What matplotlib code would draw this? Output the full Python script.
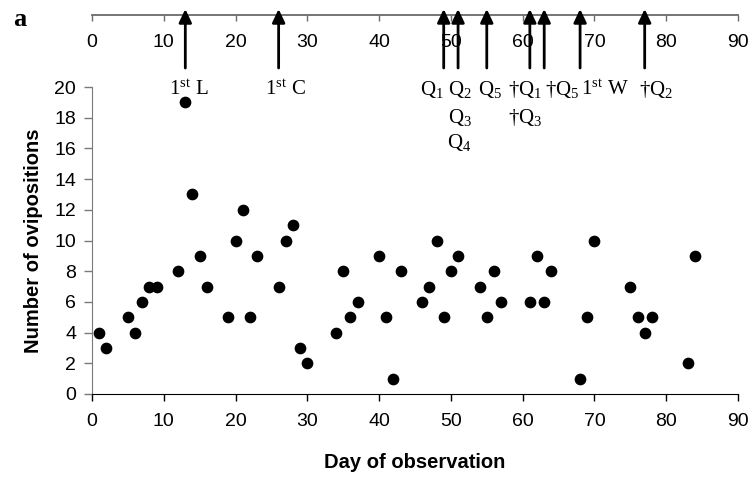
import matplotlib
matplotlib.use("Agg")
import matplotlib.pyplot as plt
import matplotlib.transforms as mtransforms
from matplotlib.patches import FancyArrowPatch

# ---------------- data ----------------
days = [1, 2, 5, 6, 7, 8, 9, 12, 13, 14, 15, 16, 19, 20, 21, 22, 23, 26, 27, 28,
        29, 30, 34, 35, 36, 37, 40, 41, 42, 43, 46, 47, 48, 49, 50, 51, 54, 55,
        56, 57, 61, 62, 63, 64, 68, 69, 70, 75, 76, 77, 78, 83, 84]
ovipositions = [4, 3, 5, 4, 6, 7, 7, 8, 19, 13, 9, 7, 5, 10, 12, 5, 9, 7, 10, 11,
                3, 2, 4, 8, 5, 6, 9, 5, 1, 8, 6, 7, 10, 5, 8, 9, 7, 5,
                8, 6, 6, 9, 6, 8, 1, 5, 10, 7, 5, 4, 5, 2, 9]

event_days = [13, 26, 49, 51, 55, 61, 63, 68, 77]
event_labels = [[r"1$^{\rm st}$ L"], [r"1$^{\rm st}$ C"], [r"Q$_1$"],
                [r"Q$_2$", r"Q$_3$", r"Q$_4$"], [r"Q$_5$"],
                [r"†Q$_1$", r"†Q$_3$"], [r"†Q$_5$"], [r"1$^{\rm st}$ W"], [r"†Q$_2$"]]

x_ticks = list(range(0, 91, 10))
y_ticks = list(range(0, 21, 2))
x_label = "Day of observation"
y_label = "Number of ovipositions"
panel_label = "a"

# ---------------- layout ----------------
W, H = 752, 478
label_x_shift = [0.5, 0.9, -1.7, 0.2, 0.4, -0.6, 2.5, 3.4, 1.6]  # label offsets (days)
row_px = [90, 117, 143]

plt.rcParams["font.family"] = ["Liberation Sans", "DejaVu Sans"]
plt.rcParams["mathtext.fontset"] = "custom"
plt.rcParams["mathtext.rm"] = "Liberation Serif"
plt.rcParams["mathtext.it"] = "Liberation Serif:italic"
plt.rcParams["mathtext.bf"] = "Liberation Serif:bold"

fig = plt.figure(figsize=(W / 100, H / 100), dpi=100)
left, right, bottom, top = 92, 738, 394, 87
ax = fig.add_axes([left / W, 1 - bottom / H, (right - left) / W, (bottom - top) / H])

ax.scatter(days, ovipositions, s=55, color="black", zorder=3, clip_on=False)
ax.set_xlim(0, 90)
ax.set_ylim(0, 20)
ax.set_xticks(x_ticks)
ax.set_yticks(y_ticks)
for s in ["top", "right"]:
    ax.spines[s].set_visible(False)
ax.spines["left"].set_color("#7a7a7a")
ax.spines["bottom"].set_color("#000000")
ax.tick_params(axis="y", direction="out", length=5.5, width=1, colors="#7a7a7a",
               labelcolor="black", labelsize=14, pad=6)
ax.tick_params(axis="x", direction="out", length=5, width=1, colors="black",
               labelsize=14, pad=9)
ax.set_xlabel(x_label, fontsize=14.5, fontweight="bold", labelpad=16)
ax.set_ylabel(y_label, fontsize=14.5, fontweight="bold", labelpad=8)

# top axis
ax_top = fig.add_axes([left / W, 1 - 15 / H, (right - left) / W, 0.0])
ax_top.set_xlim(0, 90)
ax_top.set_xticks(x_ticks)
ax_top.set_yticks([])
for s in ["top", "right", "left"]:
    ax_top.spines[s].set_visible(False)
ax_top.spines["bottom"].set_color("#6a6a6a")
ax_top.spines["bottom"].set_linewidth(1.3)
ax_top.tick_params(axis="x", direction="out", length=4, width=1, colors="#6a6a6a",
                   labelcolor="black", labelsize=14, pad=10)
ax_top.patch.set_visible(False)

# arrows and labels
trans = mtransforms.blended_transform_factory(ax.transData, fig.transFigure)
for d, labs, sh in zip(event_days, event_labels, label_x_shift):
    arr = FancyArrowPatch((d, 1 - 68 / H), (d, 1 - 9 / H), transform=trans,
                          arrowstyle="-|>,head_length=0.8,head_width=0.38",
                          mutation_scale=10, color="black", linewidth=2,
                          shrinkA=0, shrinkB=0, zorder=5)
    fig.add_artist(arr)
    for i, t in enumerate(labs):
        fig.text(d + sh, 1 - row_px[i] / H, t, transform=trans, ha="center",
                 va="center", fontsize=15, family="Liberation Serif")

fig.text(20 / W, 1 - 20 / H, panel_label, fontsize=19, fontweight="bold",
         family="Liberation Serif", ha="center", va="center")

fig.savefig("out.png", dpi=100)
